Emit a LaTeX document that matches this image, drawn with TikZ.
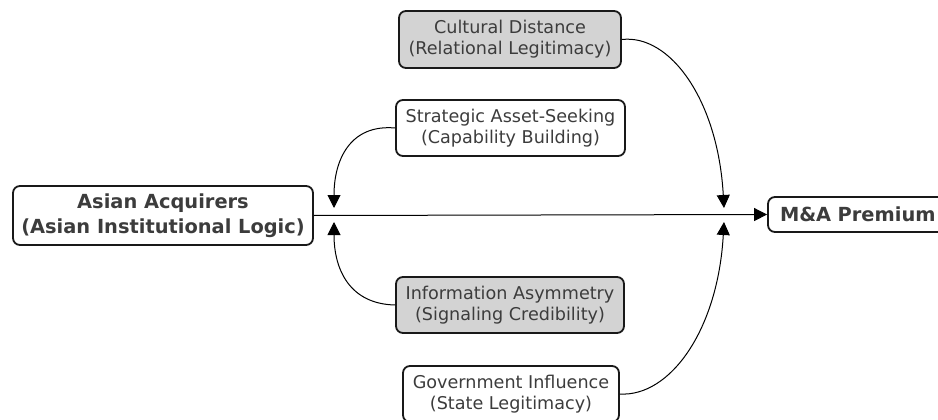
\documentclass[tikz,border=0pt]{standalone}
\usepackage{fontspec}
\setmainfont{DejaVu Sans}
\usetikzlibrary{arrows.meta}
\definecolor{boxgray}{RGB}{211,211,211}
\definecolor{txt}{RGB}{60,60,60}
\begin{document}
\begin{tikzpicture}[x=1pt,y=-1pt,
  box/.style={draw=black!90, line width=1.8pt, rounded corners=7pt, align=center,
    text=txt, inner sep=0pt, font=\fontsize{17.6}{21}\selectfont},
  shaded/.style={box, fill=boxgray},
  keybox/.style={box, font=\bfseries\fontsize{19.4}{25}\selectfont},
  link/.style={line width=1pt, -{Triangle[length=13pt,width=13pt]}}]
\useasboundingbox (0,0) rectangle (938,420);
% outcome and antecedent
\node[keybox, minimum width=300pt, minimum height=59pt] (aa) at (163,215.5)
  {Asian Acquirers\\(Asian Institutional Logic)};
\node[keybox, minimum width=186pt, minimum height=35pt, text width=162pt, align=left] (prem) at (861,214.5)
  {M\&A Premium};
% mechanism boxes
\node[shaded, minimum width=222pt, minimum height=57pt] (cd) at (510,39.5)
  {Cultural Distance\\(Relational Legitimacy)};
\node[box, minimum width=229pt, minimum height=56pt] (sa) at (510.5,128)
  {Strategic Asset-Seeking\\(Capability Building)};
\node[shaded, minimum width=228pt, minimum height=56pt] (ia) at (510,305)
  {Information Asymmetry\\(Signaling Credibility)};
\node[box, minimum width=216pt, minimum height=56pt] (gi) at (511,394)
  {Government Influence\\(State Legitimacy)};
% targets on the main path
\coordinate (up1) at (334,208);
\coordinate (dn1) at (334,222);
\coordinate (up2) at (724,208);
\coordinate (dn2) at (724,222);
% main relation
\draw[link] (aa.east) -- (prem.west);
% moderators
\draw[link] (sa.west) .. controls (350,124) and (334,160) .. (up1);
\draw[link] (ia.west) .. controls (350,304) and (334,270) .. (dn1);
\draw[link] (cd.east) .. controls (670,34) and (718,100) .. (up2);
\draw[link] (gi.east) .. controls (670,397) and (718,330) .. (dn2);
\end{tikzpicture}
\end{document}
